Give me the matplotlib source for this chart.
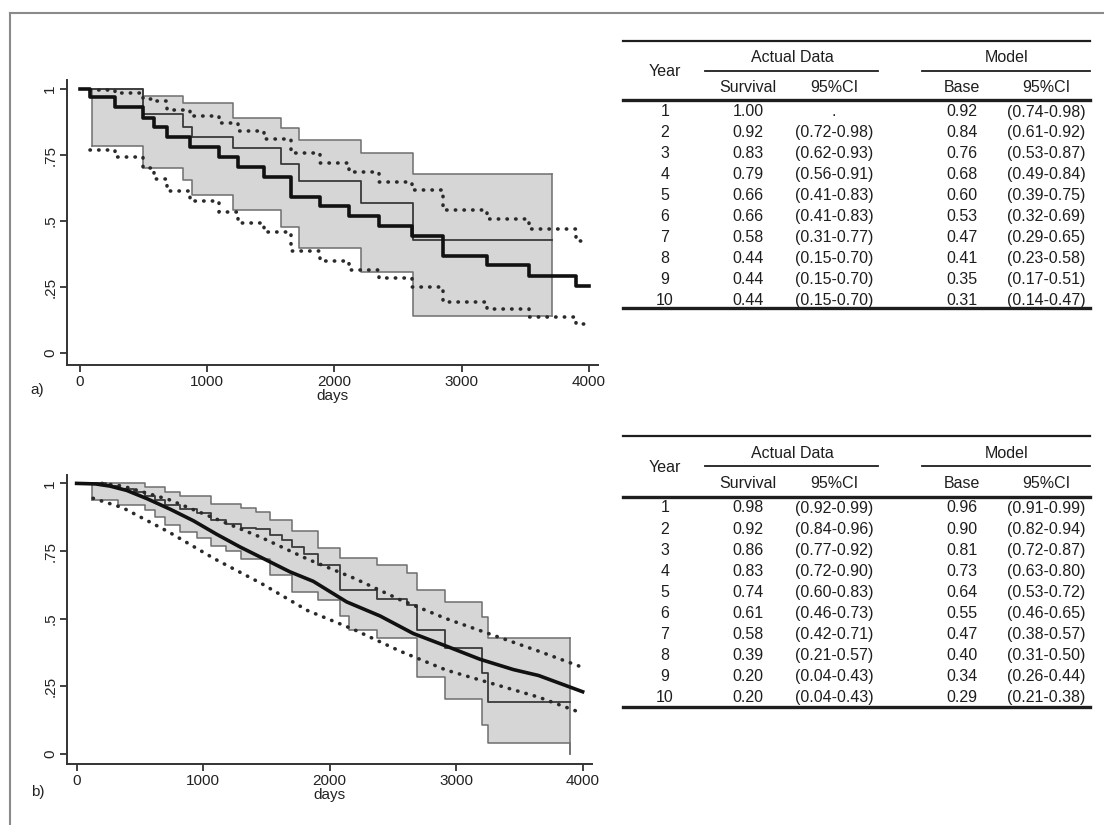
import numpy as np
import matplotlib.pyplot as plt

plt.rcParams['font.family'] = ['Liberation Sans', 'DejaVu Sans']

# ---------------- panel a data (days, survival) ----------------
a_km_t = [0, 96, 493, 810, 880, 1200, 1579, 1720, 2211, 2614, 3706]
a_km = [1.0, 1.0, 0.905, 0.855, 0.82, 0.775, 0.715, 0.65, 0.57, 0.43, 0.43]
a_km_lo = [np.nan, 0.784, 0.699, 0.654, 0.597, 0.541, 0.477, 0.398, 0.306, 0.141, 0.141]
a_km_hi = [np.nan, 1.0, 0.972, 0.947, 0.947, 0.890, 0.852, 0.807, 0.756, 0.680, 0.680]

a_mod_t = [0, 81, 277, 493, 578, 683, 863, 1089, 1239, 1450, 1660, 1886, 2112,
           2352, 2608, 2849, 3195, 3525, 3901, 4000]
a_mod = [1.0, 0.970, 0.930, 0.891, 0.857, 0.818, 0.780, 0.742, 0.705, 0.668,
         0.592, 0.557, 0.519, 0.481, 0.443, 0.369, 0.335, 0.293, 0.255, 0.255]
a_mod_hi = [np.nan, 0.995, 0.983, 0.962, 0.955, 0.921, 0.896, 0.871, 0.841, 0.811,
            0.756, 0.718, 0.687, 0.648, 0.619, 0.541, 0.506, 0.468, 0.426, 0.426]
a_mod_lo = [np.nan, 0.769, 0.744, 0.699, 0.659, 0.614, 0.576, 0.534, 0.492, 0.458,
            0.386, 0.350, 0.315, 0.284, 0.251, 0.195, 0.166, 0.137, 0.109, 0.109]

# ---------------- panel b data ----------------
b_km_t = [0, 120, 230, 330, 450, 540, 620, 700, 820, 950, 1060, 1180, 1300, 1420,
          1530, 1620, 1700, 1800, 1911, 2082, 2150, 2372, 2609, 2688, 2912, 3202,
          3255, 3900]
b_km = [1.0, 1.0, 0.99, 0.98, 0.97, 0.955, 0.94, 0.92, 0.905, 0.89, 0.865, 0.85,
        0.835, 0.83, 0.81, 0.79, 0.765, 0.74, 0.697, 0.605, 0.605, 0.574, 0.55,
        0.458, 0.39, 0.298, 0.193, 0.193]
b_km_lo = [np.nan, 0.94, 0.94, 0.92, 0.92, 0.90, 0.875, 0.845, 0.82, 0.80, 0.77,
           0.75, 0.72, 0.72, 0.66, 0.66, 0.60, 0.60, 0.57, 0.51, 0.46, 0.43, 0.43,
           0.285, 0.205, 0.107, 0.04, 0.0]
b_km_hi = [np.nan, 1.0, 1.0, 1.0, 1.0, 0.985, 0.985, 0.97, 0.955, 0.955, 0.925,
           0.925, 0.91, 0.895, 0.865, 0.865, 0.825, 0.825, 0.76, 0.725, 0.725, 0.70,
           0.667, 0.605, 0.562, 0.507, 0.43, 0.43]

b_mod_t = [0, 150, 264, 396, 554, 738, 923, 1107, 1292, 1503, 1687, 1871, 2135,
           2399, 2662, 2926, 3189, 3452, 3652, 4000]
b_mod = [1.0, 0.998, 0.99, 0.974, 0.944, 0.905, 0.862, 0.812, 0.765, 0.716,
         0.673, 0.638, 0.562, 0.51, 0.445, 0.398, 0.35, 0.312, 0.29, 0.23]
b_ci_hi_t = [200, 365, 730, 1095, 1461, 1826, 2191, 2557, 2922, 3287, 3652, 4000]
b_ci_hi = [1.0, 0.99, 0.94, 0.87, 0.80, 0.72, 0.65, 0.57, 0.50, 0.44, 0.38, 0.32]
b_ci_lo_t = [130, 365, 730, 1095, 1461, 1826, 2191, 2557, 2922, 3287, 3652, 4000]
b_ci_lo = [0.945, 0.91, 0.82, 0.72, 0.63, 0.53, 0.46, 0.38, 0.31, 0.26, 0.21, 0.15]

# ---------------- table data ----------------
years = list(range(1, 11))
ta_surv = [1.00, 0.92, 0.83, 0.79, 0.66, 0.66, 0.58, 0.44, 0.44, 0.44]
ta_lo = [None, 0.72, 0.62, 0.56, 0.41, 0.41, 0.31, 0.15, 0.15, 0.15]
ta_hi = [None, 0.98, 0.93, 0.91, 0.83, 0.83, 0.77, 0.70, 0.70, 0.70]
ta_base = [0.92, 0.84, 0.76, 0.68, 0.60, 0.53, 0.47, 0.41, 0.35, 0.31]
ta_blo = [0.74, 0.61, 0.53, 0.49, 0.39, 0.32, 0.29, 0.23, 0.17, 0.14]
ta_bhi = [0.98, 0.92, 0.87, 0.84, 0.75, 0.69, 0.65, 0.58, 0.51, 0.47]

tb_surv = [0.98, 0.92, 0.86, 0.83, 0.74, 0.61, 0.58, 0.39, 0.20, 0.20]
tb_lo = [0.92, 0.84, 0.77, 0.72, 0.60, 0.46, 0.42, 0.21, 0.04, 0.04]
tb_hi = [0.99, 0.96, 0.92, 0.90, 0.83, 0.73, 0.71, 0.57, 0.43, 0.43]
tb_base = [0.96, 0.90, 0.81, 0.73, 0.64, 0.55, 0.47, 0.40, 0.34, 0.29]
tb_blo = [0.91, 0.82, 0.72, 0.63, 0.53, 0.46, 0.38, 0.31, 0.26, 0.21]
tb_bhi = [0.99, 0.94, 0.87, 0.80, 0.72, 0.65, 0.57, 0.50, 0.44, 0.38]

W, H = 1104, 825
fig = plt.figure(figsize=(W / 100, H / 100), dpi=100)

dot = dict(color='#2a2a2a', lw=2.6, linestyle=(0, (0.1, 2.3)), dash_capstyle='round')


def setup(ax, xl, yl):
    ax.set_xlim(xl)
    ax.set_ylim(yl)
    for s in ['top', 'right']:
        ax.spines[s].set_visible(False)
    for s in ['left', 'bottom']:
        ax.spines[s].set_color('#333333')
        ax.spines[s].set_linewidth(1.4)
    ax.set_xticks([0, 1000, 2000, 3000, 4000])
    ax.set_yticks([0, 0.25, 0.5, 0.75, 1])
    ax.set_yticklabels(['0', '.25', '.5', '.75', '1'], rotation=90, va='center')
    ax.tick_params(direction='out', length=5, width=1.3, colors='#333333',
                   labelsize=11, pad=2, labelcolor='#222222')
    ax.set_xlabel('days', fontsize=11, labelpad=0, color='#222222')


def km_band(ax, t, km, lo, hi, t_end):
    t = np.array(t, dtype=float)
    lo = np.array(lo)
    hi = np.array(hi)
    ok = ~np.isnan(lo)
    ax.fill_between(t[ok], lo[ok], hi[ok], step='post', color='#d6d6d6', lw=0)
    ax.step(t[ok], lo[ok], where='post', color='#6e6e6e', lw=1.1)
    ax.step(t[ok], hi[ok], where='post', color='#6e6e6e', lw=1.1)
    i0 = np.argmax(ok)
    ax.plot([t[i0], t[i0]], [lo[i0], hi[i0]], color='#6e6e6e', lw=1.1)
    ax.plot([t_end, t_end], [lo[-1], hi[-1]], color='#6e6e6e', lw=1.1)
    ax.step(t, km, where='post', color='#3a3a3a', lw=1.3)


# panel a
axa = fig.add_axes([67 / W, 1 - 365 / H, (598 - 67) / W, (365 - 80) / H])
km_band(axa, a_km_t, a_km, a_km_lo, a_km_hi, a_km_t[-1])
axa.step(a_mod_t, a_mod_hi, where='post', **dot)
axa.step(a_mod_t, a_mod_lo, where='post', **dot)
axa.step(a_mod_t, a_mod, where='post', color='#111111', lw=2.6)
setup(axa, (-102, 4071), (-0.045, 1.034))

# panel b
axb = fig.add_axes([67 / W, 1 - 764 / H, (592 - 67) / W, (764 - 475) / H])
km_band(axb, b_km_t, b_km, b_km_lo, b_km_hi, b_km_t[-1])
axb.plot(b_ci_hi_t, b_ci_hi, **dot)
axb.plot(b_ci_lo_t, b_ci_lo, **dot)
axb.plot(b_mod_t, b_mod, color='#111111', lw=2.6)
setup(axb, (-76, 4074), (-0.037, 1.031))

# overlay in pixel coordinates for frame, labels and tables
ov = fig.add_axes([0, 0, 1, 1])
ov.set_xlim(0, W)
ov.set_ylim(H, 0)
ov.axis('off')
ov.patch.set_alpha(0)

ov.plot([10, 10], [13, H], color='#8a8a8a', lw=1.5)
ov.plot([10, W], [13, 13], color='#8a8a8a', lw=1.5)
ov.text(37, 390, 'a)', fontsize=11, ha='center', va='center', color='#222222')
ov.text(38, 792, 'b)', fontsize=11, ha='center', va='center', color='#222222')


def fmt_ci(lo, hi):
    if lo is None:
        return '.'
    return '(%.2f-%.2f)' % (lo, hi)


def draw_table(y_top, y_head, y_ul, y_year, y_sub, y_thick, y_row0, dy, y_bot,
               surv, lo, hi, base, blo, bhi):
    x0, x1 = 623, 1090
    cx = [665, 748, 834, 962, 1046]
    k = '#1e1e1e'
    fs = 11.5
    ov.plot([x0, x1], [y_top, y_top], color=k, lw=1.6)
    ov.plot([705, 878], [y_ul, y_ul], color=k, lw=1.3)
    ov.plot([922, x1], [y_ul, y_ul], color=k, lw=1.3)
    ov.plot([x0, x1], [y_thick, y_thick], color=k, lw=2.4)
    ov.plot([x0, x1], [y_bot, y_bot], color=k, lw=2.4)
    ov.text(792, y_head, 'Actual Data', fontsize=fs, ha='center', va='center', color=k)
    ov.text(1007, y_head, 'Model', fontsize=fs, ha='center', va='center', color=k)
    ov.text(cx[0], y_year, 'Year', fontsize=fs, ha='center', va='center', color=k)
    for x, s in zip(cx[1:], ['Survival', '95%CI', 'Base', '95%CI']):
        ov.text(x, y_sub, s, fontsize=fs, ha='center', va='center', color=k)
    for i, yr in enumerate(years):
        y = y_row0 + i * dy
        cells = [str(yr), '%.2f' % surv[i], fmt_ci(lo[i], hi[i]),
                 '%.2f' % base[i], fmt_ci(blo[i], bhi[i])]
        for x, s in zip(cx, cells):
            ov.text(x, y, s, fontsize=fs, ha='center', va='center', color=k)


draw_table(41, 57, 71, 72, 87, 100, 112, 20.9, 308,
           ta_surv, ta_lo, ta_hi, ta_base, ta_blo, ta_bhi)
draw_table(436, 453, 466, 467, 483, 497, 508, 21.1, 707,
           tb_surv, tb_lo, tb_hi, tb_base, tb_blo, tb_bhi)

fig.savefig('out.png', dpi=100)
